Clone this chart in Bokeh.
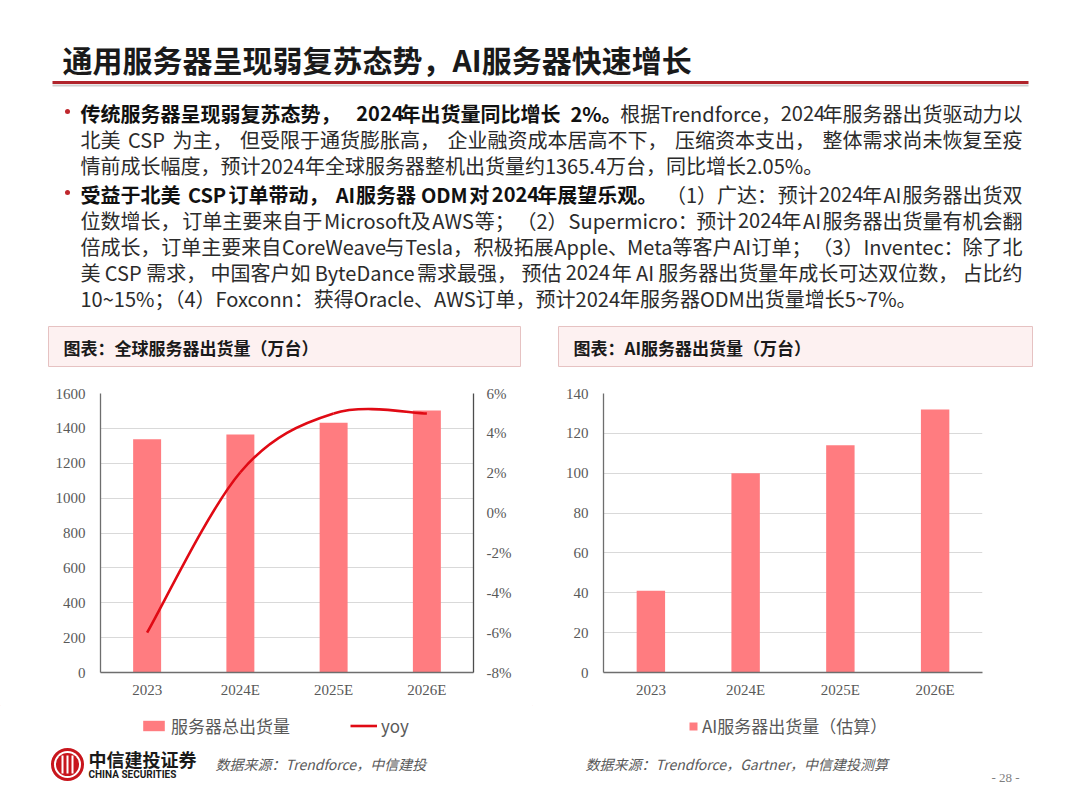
from bokeh.plotting import figure
from bokeh.models import (Range1d, FactorRange, LinearAxis, FixedTicker,
                          PrintfTickFormatter, Legend, LegendItem)
from bokeh.layouts import column, row
from bokeh.embed import file_html
from bokeh.resources import INLINE
from bokeh.core.properties import value

# ---------------- data ----------------
categories = ["2023", "2024E", "2025E", "2026E"]
server_shipments = [1338, 1365.4, 1432, 1503]      # 万台
server_yoy = [-6.0, 2.05, 5.0, 5.0]                # %
ai_shipments = [41, 100, 114, 132]                 # 万台
left_ticks = [0, 200, 400, 600, 800, 1000, 1200, 1400, 1600]
yoy_ticks = [-8, -6, -4, -2, 0, 2, 4, 6]
ai_ticks = [0, 20, 40, 60, 80, 100, 120, 140]

title_text = "通用服务器呈现弱复苏态势，AI服务器快速增长"
para1_lines = [
    [("传统服务器呈现弱复苏态势，2024年出货量同比增长2%。", True),
     ("根据Trendforce，2024年服务器出货驱动力以", False)],
    [("北美CSP为主，但受限于通货膨胀高，企业融资成本居高不下，压缩资本支出，整体需求尚未恢复至疫", False)],
    [("情前成长幅度，预计2024年全球服务器整机出货量约1365.4万台，同比增长2.05%。", False)],
]
para2_lines = [
    [("受益于北美CSP订单带动，AI服务器ODM对2024年展望乐观。", True),
     ("（1）广达：预计2024年AI服务器出货双", False)],
    [("位数增长，订单主要来自于Microsoft及AWS等；（2）Supermicro：预计2024年AI服务器出货量有机会翻", False)],
    [("倍成长，订单主要来自CoreWeave与Tesla，积极拓展Apple、Meta等客户AI订单；（3）Inventec：除了北", False)],
    [("美CSP需求，中国客户如ByteDance需求最强，预估2024年AI服务器出货量年成长可达双位数，占比约", False)],
    [("10~15%；（4）Foxconn：获得Oracle、AWS订单，预计2024年服务器ODM出货量增长5~7%。", False)],
]
chart1_title = "图表：全球服务器出货量（万台）"
chart2_title = "图表：AI服务器出货量（万台）"
legend1_labels = ["服务器总出货量", "yoy"]
legend2_label = "AI服务器出货量（估算）"
source1 = "数据来源：Trendforce，中信建投"
source2 = "数据来源：Trendforce，Gartner，中信建投测算"
company_cn = "中信建投证券"
company_en = "CHINA SECURITIES"
page_no = "- 28 -"

# ---------------- styles ----------------
CJK = "Noto Sans CJK SC"
SERIF = "Liberation Serif"
BAR = "#FF7C80"
LINE = "#E00A14"
AXIS_TXT = "#595959"
FS = 20

# approximate advance widths (em) of the Latin glyphs of the CJK font
_LOWER = dict(a=.49, b=.55, c=.45, d=.55, e=.50, f=.30, g=.50, h=.54, i=.25, j=.25,
              k=.49, l=.26, m=.83, n=.55, o=.54, p=.55, q=.55, r=.35, s=.42, t=.34,
              u=.54, v=.47, w=.72, x=.45, y=.47, z=.43)
_UPPER = dict(A=.55, B=.60, C=.58, D=.63, E=.54, F=.51, G=.63, H=.66, I=.27, J=.46,
              K=.59, L=.50, M=.74, N=.65, O=.68, P=.59, Q=.68, R=.59, S=.54, T=.54,
              U=.65, V=.52, W=.79, X=.52, Y=.48, Z=.54)


def canvas(w, h, x0, x1, ytop, ybot):
    p = figure(width=w, height=h, x_range=Range1d(x0, x1), y_range=Range1d(ybot, ytop),
               output_backend="svg", toolbar_location=None, tools="",
               x_axis_location=None, y_axis_location=None, min_border=0)
    p.grid.visible = False
    p.outline_line_color = None
    return p


def is_wide(ch):
    return ord(ch) >= 0x2E80


def est_width(s, fs, bold=False):
    w = 0.0
    for ch in s:
        if is_wide(ch):
            w += 1.0
        elif ch.isdigit():
            w += 0.52
        elif ch in _LOWER:
            w += _LOWER[ch] * 1.08
        elif ch in _UPPER:
            w += _UPPER[ch] * 1.08
        elif ch == ".":
            w += 0.25
        elif ch == "%":
            w += 0.82
        elif ch == "~":
            w += 0.52
        else:
            w += 0.4
    return w * fs * (1.06 if bold else 1.0)


NO_BREAK_BEFORE = "，；、：。）"
BREAK_AFTER = "，；、：。"


def layout_line(segs, y, justify, x_start=80, x_end=1022, fs=FS):
    chunks = []
    for text, bold in segs:
        cur = ""
        for ch in text:
            if (justify and cur and is_wide(ch) != is_wide(cur[-1])
                    and cur[-1] != "（" and ch not in NO_BREAK_BEFORE):
                chunks.append((cur, bold))
                cur = ""
            cur += ch
            if justify and ch in BREAK_AFTER:
                chunks.append((cur, bold))
                cur = ""
        if cur:
            chunks.append((cur, bold))
    widths = [est_width(t, fs, b) for t, b in chunks]
    total = sum(widths)
    gap = 0.0
    if justify and len(chunks) > 1:
        gap = max((x_end - x_start - total) / (len(chunks) - 1), 0.0)
    out = []
    x = x_start
    for (t, b), w in zip(chunks, widths):
        out.append((x, y, t, b))
        x += w + gap
    return out


# ---------------- header (picture coords 0..1064 x 0..367) ----------------
header = canvas(1064, 367, 0, 1064, 0, 367)
header.text(x=[62], y=[58], text=[title_text], text_font=value(CJK), text_font_size="30px",
            text_font_style="bold", text_color="#1a1a1a", text_baseline="middle")
header.segment(x0=[52], y0=[85], x1=[1028], y1=[85], line_width=2, line_color="#cfcfcf")
header.segment(x0=[52], y0=[82], x1=[1028], y1=[82], line_width=3, line_color="#B0242B")
header.scatter(x=[67, 67], y=[111, 192], size=5, marker="circle",
               fill_color="#C0272D", line_color=None)

placed = []
for i, segs in enumerate(para1_lines):
    placed += layout_line(segs, 113 + 26 * i, i < len(para1_lines) - 1)
for i, segs in enumerate(para2_lines):
    placed += layout_line(segs, 194 + 26 * i, i < len(para2_lines) - 1)

for bold in (True, False):
    sel = [q for q in placed if q[3] == bold]
    header.text(x=[q[0] for q in sel], y=[q[1] for q in sel], text=[q[2] for q in sel],
                text_font=value(CJK), text_font_size=f"{FS}px",
                text_font_style="bold" if bold else "normal",
                text_color="#111111" if bold else "#2b2b2b", text_baseline="middle")

header.quad(left=[48, 558], right=[520, 1032], top=[326, 326], bottom=[366, 366],
            fill_color="#FDF1F1", line_color="#E6C2C2", line_width=1)
header.text(x=[63, 573], y=[347, 347], text=[chart1_title, chart2_title],
            text_font=value(CJK), text_font_size="17px", text_font_style="bold",
            text_color="#1a1a1a", text_baseline="middle")


def style_axis(ax, standoff):
    ax.axis_line_color = "#6e6e6e"
    ax.axis_line_width = 1.3
    ax.major_tick_line_color = None
    ax.minor_tick_line_color = None
    ax.major_tick_out = 0
    ax.major_tick_in = 0
    ax.minor_tick_out = 0
    ax.minor_tick_in = 0
    ax.major_label_text_font = SERIF
    ax.major_label_text_font_size = "15px"
    ax.major_label_text_color = AXIS_TXT
    ax.major_label_standoff = standoff


def chart(border_left, border_right, ymax, ticks):
    p = figure(width=532, height=338, x_range=FactorRange(*categories),
               y_range=Range1d(0, ymax), output_backend="svg", toolbar_location=None,
               tools="", min_border_left=border_left, min_border_right=border_right,
               min_border_top=26, min_border_bottom=33)
    p.outline_line_color = None
    p.xgrid.visible = False
    p.ygrid.grid_line_color = "#d9d9d9"
    p.ygrid.grid_line_width = 1
    p.yaxis.ticker = FixedTicker(ticks=ticks)
    style_axis(p.yaxis[0], 15)
    style_axis(p.xaxis[0], 9)
    return p


# ---------------- left chart ----------------
p1 = chart(100, 59, 1600, left_ticks)
p1.extra_y_ranges = {"yoy": Range1d(-8, 6)}
bars1 = p1.vbar(x=categories, top=server_shipments, width=0.3, fill_color=BAR, line_color=None)

xs = [i + 0.5 for i in range(len(categories))]
n = len(xs)
bz = dict(x0=[], y0=[], x1=[], y1=[], cx0=[], cy0=[], cx1=[], cy1=[])
for i in range(n - 1):
    a, b = i, i + 1
    pm, pn = max(i - 1, 0), min(i + 2, n - 1)
    bz["x0"].append(xs[a]); bz["y0"].append(server_yoy[a])
    bz["x1"].append(xs[b]); bz["y1"].append(server_yoy[b])
    bz["cx0"].append(xs[a] + (xs[b] - xs[pm]) / 6)
    bz["cy0"].append(server_yoy[a] + (server_yoy[b] - server_yoy[pm]) / 6)
    bz["cx1"].append(xs[b] - (xs[pn] - xs[a]) / 6)
    bz["cy1"].append(server_yoy[b] - (server_yoy[pn] - server_yoy[a]) / 6)
yoy_line = p1.bezier(**bz, y_range_name="yoy", line_color=LINE, line_width=2.6)

ax_r = LinearAxis(y_range_name="yoy", ticker=FixedTicker(ticks=yoy_ticks),
                  formatter=PrintfTickFormatter(format="%d%%"))
style_axis(ax_r, 13)
ax_r.axis_line_color = "#4d4d4d"
p1.add_layout(ax_r, "right")

# ---------------- right chart ----------------
p2 = chart(71, 82, 140, ai_ticks)
bars2 = p2.vbar(x=categories, top=ai_shipments, width=0.3, fill_color=BAR, line_color=None)


# ---------------- legends (strips under each chart) ----------------
# legend key renderers sit outside the strip's visible range; only the keys show
lg1 = canvas(532, 40, 0, 532, 0, 40)
lr_bar = lg1.vbar(x=[-500], top=[-500], bottom=[-501], width=1,
                  fill_color=BAR, line_color=None)
lr_line = lg1.line(x=[-500, -499], y=[-500, -500], line_color=LINE, line_width=2.6)
leg1 = Legend(items=[LegendItem(label=legend1_labels[0], renderers=[lr_bar]),
                     LegendItem(label=legend1_labels[1], renderers=[lr_line])],
              orientation="horizontal", location=(140, 7), glyph_width=27, glyph_height=13,
              label_text_font=CJK, label_text_font_size="17px", label_text_color=AXIS_TXT,
              spacing=60, padding=0, margin=0, border_line_color=None,
              background_fill_alpha=0, label_standoff=4, label_height=20)
lg1.add_layout(leg1)

lg2 = canvas(532, 40, 0, 532, 0, 40)
lr_bar2 = lg2.vbar(x=[-500], top=[-500], bottom=[-501], width=1,
                   fill_color=BAR, line_color=None)
leg2 = Legend(items=[LegendItem(label=legend2_label, renderers=[lr_bar2])],
              orientation="horizontal", location=(156, 7), glyph_width=10, glyph_height=10,
              label_text_font=CJK, label_text_font_size="17px", label_text_color=AXIS_TXT,
              padding=0, margin=0, border_line_color=None, background_fill_alpha=0,
              label_standoff=4, label_height=20)
lg2.add_layout(leg2)

# ---------------- footer (picture coords y 745..800) ----------------
footer = canvas(1064, 55, 0, 1064, 745, 800)
footer.scatter(x=[67], y=[764], size=33, marker="circle", fill_color="#C8161D", line_color=None)
footer.scatter(x=[67], y=[764], size=27, marker="circle", fill_color="white", line_color=None)
footer.scatter(x=[67], y=[764], size=23, marker="circle", fill_color="#C8161D", line_color=None)
footer.segment(x0=[62, 67, 72], y0=[755, 755, 755], x1=[62, 67, 72], y1=[773, 773, 773],
               line_color="white", line_width=2)
footer.text(x=[88], y=[758], text=[company_cn], text_font=value(CJK), text_font_size="18px",
            text_font_style="bold", text_color="#1a1a1a", text_baseline="middle")
footer.text(x=[88], y=[774], text=[company_en], text_font=value("Roboto"),
            text_font_size="10px", text_font_style="bold", text_color="#1a1a1a",
            text_baseline="middle")
footer.text(x=[215, 585], y=[763, 763], text=[source1, source2], text_font=value(CJK),
            text_font_size="14px", text_font_style="italic", text_color="#595959",
            text_baseline="middle")
footer.text(x=[1005], y=[777], text=[page_no], text_font=value(SERIF), text_font_size="13px",
            text_color="#7f7f7f", text_baseline="middle", text_align="center")

layout = column(header, row(p1, p2, spacing=0), row(lg1, lg2, spacing=0), footer, spacing=0)
open("out.html", "w").write(file_html(layout, INLINE))
